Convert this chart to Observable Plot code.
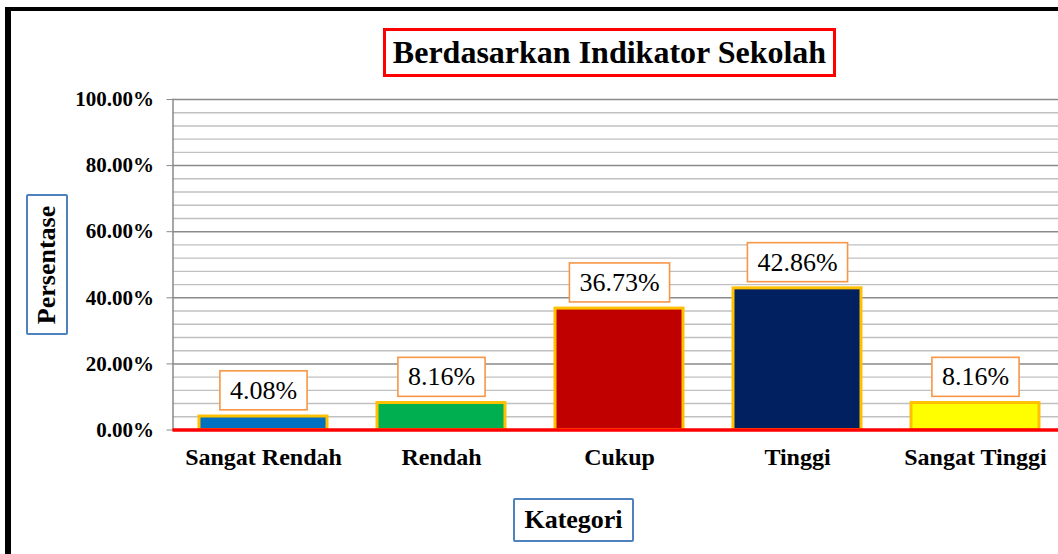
<!DOCTYPE html>
<html>
<head>
<meta charset="utf-8">
<script src="https://cdn.jsdelivr.net/npm/d3@7"></script>
<script src="https://cdn.jsdelivr.net/npm/@observablehq/plot@0.6"></script>
<style>
  html, body { margin: 0; padding: 0; background: #fff; overflow: hidden; }
  #wrap { position: relative; width: 1058px; height: 554px; overflow: hidden; background: #fff;
          font-family: "Liberation Serif", "Times New Roman", serif; }
  #chart { position: absolute; left: 0; top: 0; width: 1066px; height: 554px; }
  #chart svg { max-width: none !important; }
  .box { position: absolute; box-sizing: border-box; display: flex; align-items: center; justify-content: center;
         background: #fff; font-weight: bold; color: #000; white-space: nowrap; }
  #title { left: 383px; top: 28px; width: 453px; height: 49px; border: 3px solid #FF0000; font-size: 32px; }
  #ytitle { left: 26px; top: 194px; width: 42px; height: 141px; border: 2.5px solid #4F81BD; border-radius: 2px; }
  #ytitle span { display: block; transform: rotate(-90deg); font-size: 26px; }
  #xtitle { left: 513px; top: 498px; width: 121px; height: 44px; border: 2.5px solid #4F81BD; border-radius: 2px; font-size: 26px; }
  .frameL { position: absolute; left: 5px; top: 7px; width: 6px; height: 560px; background: #000; }
  .frameT { position: absolute; left: 5px; top: 7px; width: 1060px; height: 4px; background: #000; }
</style>
</head>
<body>
<div id="wrap">
  <div id="chart"></div>
  <div class="frameL"></div>
  <div class="frameT"></div>
  <div id="title" class="box">Berdasarkan Indikator Sekolah</div>
  <div id="ytitle" class="box"><span>Persentase</span></div>
  <div id="xtitle" class="box">Kategori</div>
</div>
<script>
const categories = ["Sangat Rendah", "Rendah", "Cukup", "Tinggi", "Sangat Tinggi"];
const values = [0.0408, 0.0816, 0.3673, 0.4286, 0.0816];
const barColors = ["#0070C0", "#00B050", "#C00000", "#002060", "#FFFF00"];
const majorTicks = [0, 0.2, 0.4, 0.6, 0.8, 1.0];
const minorTicks = [0.04, 0.08, 0.12, 0.16, 0.24, 0.28, 0.32, 0.36, 0.44, 0.48, 0.52, 0.56,
                    0.64, 0.68, 0.72, 0.76, 0.84, 0.88, 0.92, 0.96];

const data = categories.map((c, i) => ({category: c, value: values[i], color: barColors[i]}));
const pct = d3.format(".2%");
const serif = "'Liberation Serif', 'Times New Roman', serif";

const chart = Plot.plot({
  width: 1066,
  height: 554,
  marginLeft: 172.5,
  marginRight: 0,
  marginTop: 99,
  marginBottom: 124.5,
  style: {fontFamily: serif, background: "transparent", overflow: "visible", maxWidth: "none"},
  x: {type: "band", domain: categories, paddingInner: 0.283, paddingOuter: 0.1415, axis: null},
  y: {domain: [0, 1], axis: null},
  color: {type: "identity"},
  marks: [
    Plot.gridY(minorTicks, {stroke: "#C0C0C0", strokeOpacity: 1, strokeWidth: 1.4}),
    Plot.gridY(majorTicks, {stroke: "#8A8A8A", strokeOpacity: 1, strokeWidth: 1.5}),
    Plot.frame({anchor: "left", stroke: "#8A8A8A", strokeWidth: 1.5}),
    Plot.axisY(majorTicks, {tickFormat: pct, tickSize: 6, tickPadding: 13, fontSize: 21, fontWeight: "bold",
                            fontFamily: serif, stroke: "#8A8A8A", fill: "#000", label: null}),
    Plot.axisX({tickSize: 0, tickPadding: 18, fontSize: 24, fontWeight: "bold", fontFamily: serif,
                fill: "#000", label: null}),
    Plot.barY(data, {x: "category", y: "value", fill: "color", stroke: "#FFC000", strokeWidth: 3}),
    Plot.ruleY([0], {stroke: "#FF0000", strokeWidth: 3.5}),
    Plot.text(data, {x: "category", y: "value", text: d => pct(d.value), dy: -26, fontSize: 26, fill: "#000",
                     fontFamily: serif, lineAnchor: "middle"})
  ]
});
document.getElementById("chart").appendChild(chart);

// draw the label boxes behind the data-label texts
const ns = "http://www.w3.org/2000/svg";
chart.querySelectorAll('g[aria-label="text"] text').forEach(t => {
  const b = t.getBBox();
  const padX = 10, h = 39;
  const cy = b.y + b.height / 2;
  const r = document.createElementNS(ns, "rect");
  r.setAttribute("x", b.x - padX);
  r.setAttribute("y", cy - h / 2);
  r.setAttribute("width", b.width + 2 * padX);
  r.setAttribute("height", h);
  r.setAttribute("fill", "#fff");
  r.setAttribute("stroke", "#F79646");
  r.setAttribute("stroke-width", 1.6);
  const tr = t.getAttribute("transform");
  if (tr) r.setAttribute("transform", tr);
  t.parentNode.insertBefore(r, t);
});
</script>
</body>
</html>
